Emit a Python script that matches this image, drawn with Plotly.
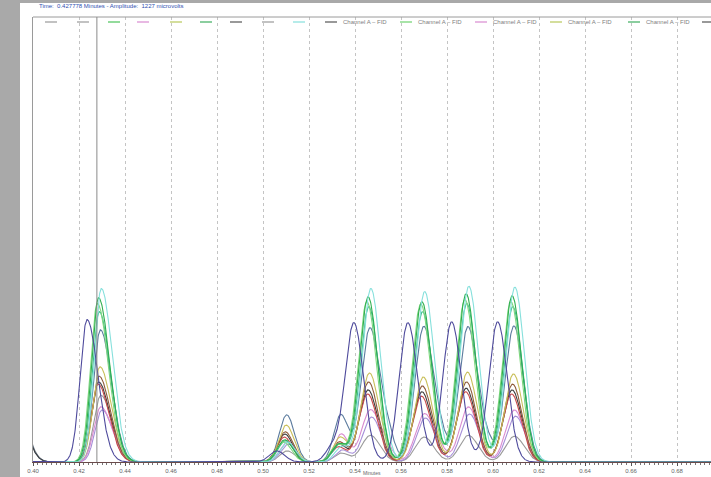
import numpy as np
import plotly.graph_objects as go

# ---- chromatogram peak tables (retention time in minutes, amplitude in microvolts) ----
group_times = [0.4285, 0.5095, 0.5330, 0.5457, 0.5691, 0.5883, 0.6083]
# left / right peak widths (sigma, minutes) for each peak in a trace
sigma_left = [0.0030, 0.0032, 0.0030, 0.0038, 0.0038, 0.0038, 0.0038]
sigma_right = [0.0048, 0.0034, 0.0032, 0.0042, 0.0042, 0.0042, 0.0042]

trace_names = ["gray", "blue_gray", "dark", "lavender", "pink", "red", "brown",
               "yellow", "teal", "green_light", "green", "cyan", "purple"]
trace_colors = {
    "gray": "#9a9a9a", "blue_gray": "#5b7b9e", "dark": "#3d3d3d",
    "lavender": "#a68fd8", "pink": "#d98bd0", "red": "#c94a4a",
    "brown": "#8e5b3a", "yellow": "#c9bf5a", "teal": "#3fbf8f",
    "green_light": "#7fd87f", "green": "#2fae4f", "cyan": "#86e0dc",
    "purple": "#4e4a9c",
}
trace_shift = {
    "gray": 0.0010, "blue_gray": 0.0008, "dark": 0.0000, "lavender": 0.0015,
    "pink": 0.0010, "red": -0.0002, "brown": 0.0002, "yellow": 0.0006,
    "teal": 0.0003, "green_light": -0.0005, "green": 0.0000, "cyan": 0.0012,
    "purple": 0.0,
}
purple_times = [0.4235, 0.5060, 0.5300, 0.5395, 0.5630, 0.5820, 0.6020]
trace_heights = {
    "gray": [1500, 250, 200, 600, 560, 600, 580],
    "blue_gray": [2970, 1060, 1060, 3010, 3040, 3040, 3060],
    "dark": [1800, 630, 400, 1620, 1580, 1660, 1620],
    "lavender": [1170, 400, 270, 1010, 990, 1080, 1030],
    "pink": [1240, 450, 630, 1170, 1080, 1240, 1170],
    "red": [1750, 560, 340, 1530, 1480, 1580, 1530],
    "brown": [1930, 680, 450, 1800, 1710, 1800, 1750],
    "yellow": [2140, 830, 560, 2000, 1910, 2020, 1980],
    "teal": [3380, 480, 400, 3490, 3380, 3560, 3490],
    "green_light": [3560, 450, 380, 3600, 3550, 3650, 3600],
    "green": [3690, 500, 400, 3710, 3600, 3780, 3735],
    "cyan": [3900, 450, 340, 3900, 3830, 3950, 3930],
    "purple": [3200, 250, 300, 3130, 3130, 3150, 3150],
}
# solvent front tail at the start of the run
solvent_time = 0.3940
solvent_height = {"gray": 1100, "blue_gray": 1000, "dark": 950}
# small extra peaks between the main group
extra_peaks = {"blue_gray": [(0.5545, 500), (0.5775, 380), (0.5975, 330)],
               "pink": [(0.5540, 250), (0.5770, 200)]}

tick_values = [0.40, 0.42, 0.44, 0.46, 0.48, 0.50, 0.52, 0.54, 0.56, 0.58, 0.60, 0.62, 0.64, 0.66, 0.68]
tick_labels = ["0.40", "0.42", "0.44", "0.46", "0.48", "0.50", "0.52", "0.54", "0.56", "0.58",
               "0.60", "0.62", "0.64", "0.66", "0.68"]
cursor_time = 0.427778
header_text = "Time:  0.427778 Minutes - Amplitude:  1227 microvolts"

legend_colors = ["#9a9a9a", "#9a9a9a", "#4cc45a", "#d98bd0", "#b8c85a", "#3fae5f", "#555555",
                 "#9a9a9a", "#86e0dc", "#555555", "#6fd36f", "#d98bd0", "#b8c85a", "#3fae5f", "#555555"]
legend_labels = [""] * 9 + ["Channel A \u2013 FID"] * 5 + [""]
legend_px = [45, 77, 108, 137, 170, 200, 230, 262, 293, 325, 400, 475, 550, 628, 702]

# ---- geometry of the page (pixels) ----
W, H = 711, 477
L, T, B = 33, 17, 15
PW = W - L
PH = H - T - B
x_min = 0.40
x_max = 0.40 + PW / 2300.0
y_max = 10000


def px_x(px):
    return (px - L) / PW


def px_y(py):
    return (H - B - py) / PH


def peak(t, center, h, sl, sr):
    s = np.where(t < center, sl, sr)
    return h * np.exp(-((t - center) ** 2) / (2 * s ** 2))


t = np.linspace(0.385, 0.70, 2400)

fig = go.Figure()
for name in trace_names:
    y = np.zeros_like(t)
    times = purple_times if name == "purple" else [g + trace_shift[name] for g in group_times]
    for i, (c, h) in enumerate(zip(times, trace_heights[name])):
        y += peak(t, c, h, sigma_left[i], sigma_right[i])
    if name in solvent_height:
        y += peak(t, solvent_time, solvent_height[name], 0.004, 0.004)
    for c, h in extra_peaks.get(name, []):
        y += peak(t, c, h, 0.0028, 0.0028)
    fig.add_trace(go.Scatter(x=t, y=y, mode="lines",
                             line=dict(color=trace_colors[name], width=1.1),
                             showlegend=False, hoverinfo="skip"))

shapes = [
    # grey window frame
    dict(type="rect", xref="paper", yref="paper", x0=px_x(0), x1=px_x(20), y0=px_y(H), y1=px_y(0),
         fillcolor="#a9a9a9", line=dict(width=0), layer="above"),
    dict(type="rect", xref="paper", yref="paper", x0=px_x(0), x1=px_x(W), y0=px_y(3), y1=px_y(0),
         fillcolor="#a9a9a9", line=dict(width=0), layer="above"),
    # top border of the plot
    dict(type="line", xref="paper", yref="paper", x0=0, x1=1, y0=1, y1=1,
         line=dict(color="#9a9a9a", width=1)),
    # cursor line
    dict(type="line", xref="x", yref="paper", x0=cursor_time, x1=cursor_time, y0=0, y1=1,
         line=dict(color="#8a8a8a", width=1)),
]
annotations = [
    dict(text=header_text, xref="paper", yref="paper", x=px_x(37), y=px_y(6),
         xanchor="left", yanchor="middle", showarrow=False,
         font=dict(family="Liberation Sans, Arial", size=6, color="#3050b0")),
    dict(text="Minutes", xref="paper", yref="paper", x=px_x(372), y=px_y(473),
         xanchor="center", yanchor="middle", showarrow=False,
         font=dict(family="Liberation Sans, Arial", size=5, color="#666666")),
]
for px, col, lab in zip(legend_px, legend_colors, legend_labels):
    shapes.append(dict(type="line", xref="paper", yref="paper", x0=px_x(px), x1=px_x(px + 12),
                       y0=px_y(22), y1=px_y(22), line=dict(color=col, width=1.2)))
    if lab:
        annotations.append(dict(text=lab, xref="paper", yref="paper", x=px_x(px + 16), y=px_y(22),
                                xanchor="left", yanchor="middle", showarrow=False,
                                font=dict(family="Liberation Sans, Arial", size=6, color="#808080")))

fig.update_layout(
    width=W, height=H,
    margin=dict(l=L, r=0, t=T, b=B),
    paper_bgcolor="white", plot_bgcolor="white",
    shapes=shapes, annotations=annotations,
    xaxis=dict(range=[x_min, x_max], tickmode="array", tickvals=tick_values, ticktext=tick_labels,
               showgrid=True, gridcolor="#c4c4c4", griddash="dot", gridwidth=1,
               zeroline=False, showline=True, linecolor="#6a4a4a", linewidth=1.2,
               ticks="outside", ticklen=3, tickcolor="#555555",
               minor=dict(dtick=0.002, ticks="outside", ticklen=2, tickcolor="#777777", showgrid=False),
               tickfont=dict(family="Liberation Sans, Arial", size=6, color="#666666")),
    yaxis=dict(range=[0, y_max], showticklabels=False, showgrid=False, zeroline=False,
               showline=True, linecolor="#9a9a9a", linewidth=1, ticks=""),
)

fig.write_html("out.html")
